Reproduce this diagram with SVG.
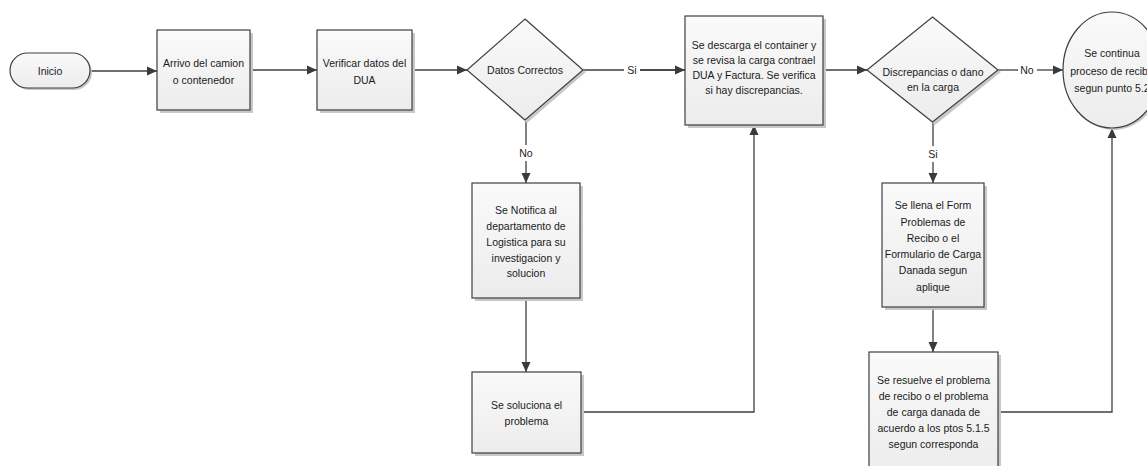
<svg xmlns="http://www.w3.org/2000/svg" width="1147" height="466" viewBox="0 0 1147 466">
  <defs>
    <linearGradient id="fillGrad" x1="0" y1="0" x2="0" y2="1">
      <stop offset="0" stop-color="#fafafa"/>
      <stop offset="1" stop-color="#ececec"/>
    </linearGradient>
    <marker id="arrow" viewBox="0 0 10 10" refX="10" refY="5" markerWidth="10" markerHeight="10" markerUnits="userSpaceOnUse" orient="auto">
      <path d="M0,0.5 L10,5 L0,9.5 z" fill="#3a3a3a"/>
    </marker>
  </defs>
  <style>
    .shape { fill: url(#fillGrad); stroke: #3f3f3f; stroke-width: 1.2; }
    .shadow { fill: #c8c8c8; stroke: none; }
    .edge { fill: none; stroke: #3f3f3f; stroke-width: 1.3; }
    .lbl { font-family: "Liberation Sans", Arial, sans-serif; font-size: 10.5px; fill: #1a1a1a; text-anchor: middle; }
    .elbl { font-family: "Liberation Sans", Arial, sans-serif; font-size: 10.5px; fill: #1a1a1a; text-anchor: middle; }
  </style>
  <rect width="1147" height="466" fill="#ffffff"/>

  <!-- connectors -->
  <g id="connectors">
    <path class="edge" d="M90,71 L157,71" marker-end="url(#arrow)"/>
    <path class="edge" d="M250,70 L317,70" marker-end="url(#arrow)"/>
    <path class="edge" d="M412,70 L467,70" marker-end="url(#arrow)"/>
    <path class="edge" d="M583,70 L624,70 M640,70 L685,70" />
    <path class="edge" d="M640,70 L685,70" marker-end="url(#arrow)"/>
    <path class="edge" d="M526,120 L526,145"/>
    <path class="edge" d="M526,161 L526,183" marker-end="url(#arrow)"/>
    <path class="edge" d="M526,298 L526,372" marker-end="url(#arrow)"/>
    <path class="edge" d="M581,412 L754,412 L754,125" marker-end="url(#arrow)"/>
    <path class="edge" d="M823,70 L867,70" marker-end="url(#arrow)"/>
    <path class="edge" d="M998,70 L1018,70"/>
    <path class="edge" d="M1037,70 L1063,70" marker-end="url(#arrow)"/>
    <path class="edge" d="M933,122 L933,146"/>
    <path class="edge" d="M933,162 L933,183" marker-end="url(#arrow)"/>
    <path class="edge" d="M933,307 L933,352" marker-end="url(#arrow)"/>
    <path class="edge" d="M998,412 L1112,412 L1112,128" marker-end="url(#arrow)"/>
    <text class="elbl" x="632" y="74">Si</text>
    <text class="elbl" x="1027" y="74">No</text>
    <text class="elbl" x="526" y="157">No</text>
    <text class="elbl" x="933" y="158">Si</text>
  </g>

  <!-- start terminator -->
  <g id="inicio">
    <rect class="shadow" x="12" y="55" width="80" height="35" rx="17.5"/>
    <rect class="shape" x="10" y="53" width="80" height="35" rx="17.5"/>
    <text class="lbl" x="50" y="75">Inicio</text>
  </g>

  <g id="arrivo">
    <rect class="shadow" x="160" y="33" width="93" height="80"/>
    <rect class="shape" x="157" y="30" width="93" height="80"/>
    <text class="lbl" x="203.5" y="67">Arrivo del camion</text>
    <text class="lbl" x="203.5" y="84">o contenedor</text>
  </g>

  <g id="verificar">
    <rect class="shadow" x="320" y="33" width="95" height="80"/>
    <rect class="shape" x="317" y="30" width="95" height="80"/>
    <text class="lbl" x="364.5" y="67">Verificar datos del</text>
    <text class="lbl" x="364.5" y="84">DUA</text>
  </g>

  <g id="datos-correctos">
    <polygon class="shadow" points="527,22 586,72 527,123 469,72"/>
    <polygon class="shape" points="525,19 583,70 525,120 467,70"/>
    <text class="lbl" x="525" y="74">Datos Correctos</text>
  </g>

  <g id="descarga">
    <rect class="shadow" x="688" y="19" width="138" height="109"/>
    <rect class="shape" x="685" y="16" width="138" height="109"/>
    <text class="lbl" x="754" y="49">Se descarga el container y</text>
    <text class="lbl" x="754" y="64">se revisa la carga contrael</text>
    <text class="lbl" x="754" y="79">DUA y Factura. Se verifica</text>
    <text class="lbl" x="754" y="94">si hay discrepancias.</text>
  </g>

  <g id="discrepancias">
    <polygon class="shadow" points="935,20 1001,72 935,125 869,72"/>
    <polygon class="shape" points="932.5,17 998,70 932.5,122 867,70"/>
    <text class="lbl" x="933" y="76">Discrepancias o dano</text>
    <text class="lbl" x="933" y="91">en la carga</text>
  </g>

  <g id="continua">
    <ellipse class="shadow" cx="1114" cy="72" rx="49" ry="58"/>
    <ellipse class="shape" cx="1112" cy="70" rx="49" ry="58"/>
    <text class="lbl" x="1112" y="57">Se continua</text>
    <text class="lbl" x="1112" y="75">proceso de recibo</text>
    <text class="lbl" x="1112" y="92">segun punto 5.2</text>
  </g>

  <g id="notifica">
    <rect class="shadow" x="475" y="186" width="108" height="115"/>
    <rect class="shape" x="472" y="183" width="108" height="115"/>
    <text class="lbl" x="526" y="214">Se Notifica al</text>
    <text class="lbl" x="526" y="230">departamento de</text>
    <text class="lbl" x="526" y="246">Logistica para su</text>
    <text class="lbl" x="526" y="262">investigacion y</text>
    <text class="lbl" x="526" y="277">solucion</text>
  </g>

  <g id="soluciona">
    <rect class="shadow" x="475" y="375" width="109" height="81"/>
    <rect class="shape" x="472" y="372" width="109" height="81"/>
    <text class="lbl" x="526.5" y="409">Se soluciona el</text>
    <text class="lbl" x="526.5" y="425">problema</text>
  </g>

  <g id="formulario">
    <rect class="shadow" x="885" y="186" width="102" height="124"/>
    <rect class="shape" x="882" y="183" width="102" height="124"/>
    <text class="lbl" x="933" y="209">Se llena el Form</text>
    <text class="lbl" x="933" y="226">Problemas de</text>
    <text class="lbl" x="933" y="242">Recibo o el</text>
    <text class="lbl" x="933" y="258">Formulario de Carga</text>
    <text class="lbl" x="933" y="274">Danada segun</text>
    <text class="lbl" x="933" y="291">aplique</text>
  </g>

  <g id="resuelve">
    <rect class="shadow" x="872" y="355" width="129" height="120"/>
    <rect class="shape" x="869" y="352" width="129" height="120"/>
    <text class="lbl" x="933.5" y="384">Se resuelve el problema</text>
    <text class="lbl" x="933.5" y="400">de recibo o el problema</text>
    <text class="lbl" x="933.5" y="416">de carga danada de</text>
    <text class="lbl" x="933.5" y="432">acuerdo a los ptos 5.1.5</text>
    <text class="lbl" x="933.5" y="448">segun corresponda</text>
  </g>
</svg>
